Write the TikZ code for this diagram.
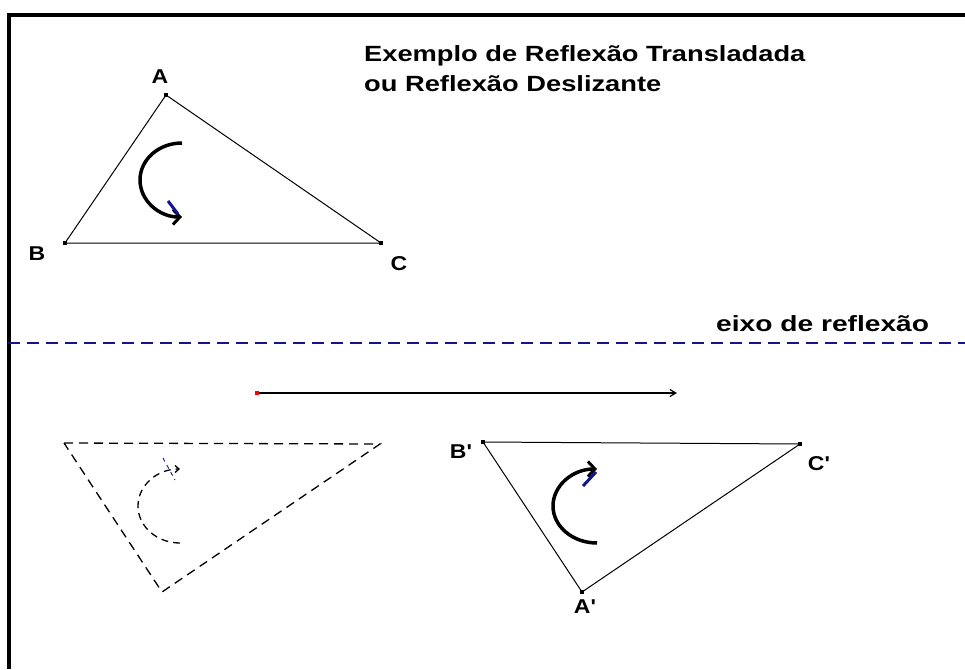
\documentclass[tikz,border=0pt]{standalone}
\usepackage{fontspec}
\setmainfont{Liberation Sans}
\usetikzlibrary{arrows.meta}
\definecolor{navyax}{RGB}{20,20,140}
\tikzset{
  tri/.style={line width=1pt, black},
  dtri/.style={line width=1.3pt, black, dash pattern=on 9pt off 6pt},
  vtx/.style={fill=black, inner sep=0pt, minimum size=4pt, rectangle},
  lbl/.style={font=\bfseries\fontsize{20}{20}\selectfont, inner sep=0pt},
  rot/.style={line width=3.5pt, black},
  title/.style={font=\bfseries\fontsize{22}{30}\selectfont, align=left, inner sep=0pt, anchor=north west},
}
\newcommand{\wide}[2]{\scalebox{#1}[1]{#2}}
\newcommand{\pr}{\textquotesingle}
\begin{document}
\begin{tikzpicture}[x=1pt,y=-1pt]
\useasboundingbox (0,0) rectangle (965,669);
% frame
\draw[line width=4pt] (9,669) -- (9,15) -- (965,15);
% title
\node[title] (t) at (364,45) {\wide{1.24}{Exemplo de Reflexão Transladada}\\\wide{1.24}{ou Reflexão Deslizante}};
% triangle ABC
\coordinate (A) at (166,95);
\coordinate (B) at (65,243);
\coordinate (C) at (381,243);
\draw[tri] (A) -- (B) -- (C) -- cycle;
\foreach \p in {A,B,C} \node[vtx] at (\p) {};
\node[lbl] (lA) at (160,77) {\wide{1.15}{A}};
\node[lbl] (lB) at (37,254) {\wide{1.15}{B}};
\node[lbl] (lC) at (399,264) {\wide{1.15}{C}};
% rotation arrow top
\draw[rot, -{Straight Barb[length=7pt,width=15pt,line width=3pt]}] (182,143) arc[start angle=270, end angle=90, x radius=42, y radius=37];
\draw[navyax, line width=3pt] (168,201) -- (178,214);
% axis
\draw[navyax, line width=2pt, dash pattern=on 12pt off 7pt] (8,343) -- (965,343);
\node[font=\bfseries\fontsize{22}{22}\selectfont, inner sep=0pt, anchor=west] (ax) at (716,324) {\wide{1.28}{eixo de reflexão}};
% translation vector
\coordinate (v0) at (257,393);
\coordinate (v1) at (677,393);
\draw[line width=1.2pt, -{Straight Barb[length=6pt,width=7pt]}] (v0) -- (v1);
\node[fill=red, inner sep=0pt, minimum size=4pt, rectangle] at (v0) {};
% dashed triangle
\coordinate (D1) at (64,443);
\coordinate (D2) at (380,444);
\coordinate (D3) at (162,592);
\draw[dtri] (D1) -- (D2) -- (D3) -- cycle;
\draw[line width=1.3pt, dash pattern=on 7pt off 5pt, -{Straight Barb[length=4pt,width=7pt]}] (180,543) arc[start angle=90, end angle=270, x radius=42, y radius=37];
\draw[navyax, line width=0.9pt, dash pattern=on 4pt off 4pt] (163,458) -- (175,480);
% triangle A'B'C'
\coordinate (A2) at (582,592);
\coordinate (B2) at (483,442);
\coordinate (C2) at (800,444);
\draw[tri] (A2) -- (B2) -- (C2) -- cycle;
\foreach \p in {A2,B2,C2} \node[vtx] at (\p) {};
\node[lbl] (lA2) at (585,607) {\wide{1.15}{A\pr}};
\node[lbl] (lB2) at (461,452) {\wide{1.15}{B\pr}};
\node[lbl] (lC2) at (819,464) {\wide{1.15}{C\pr}};
\draw[rot, -{Straight Barb[length=7pt,width=15pt,line width=3pt]}] (597,543) arc[start angle=90, end angle=270, x radius=44, y radius=37];
\draw[navyax, line width=3pt] (583,486) -- (596,472);
\end{tikzpicture}
\end{document}
